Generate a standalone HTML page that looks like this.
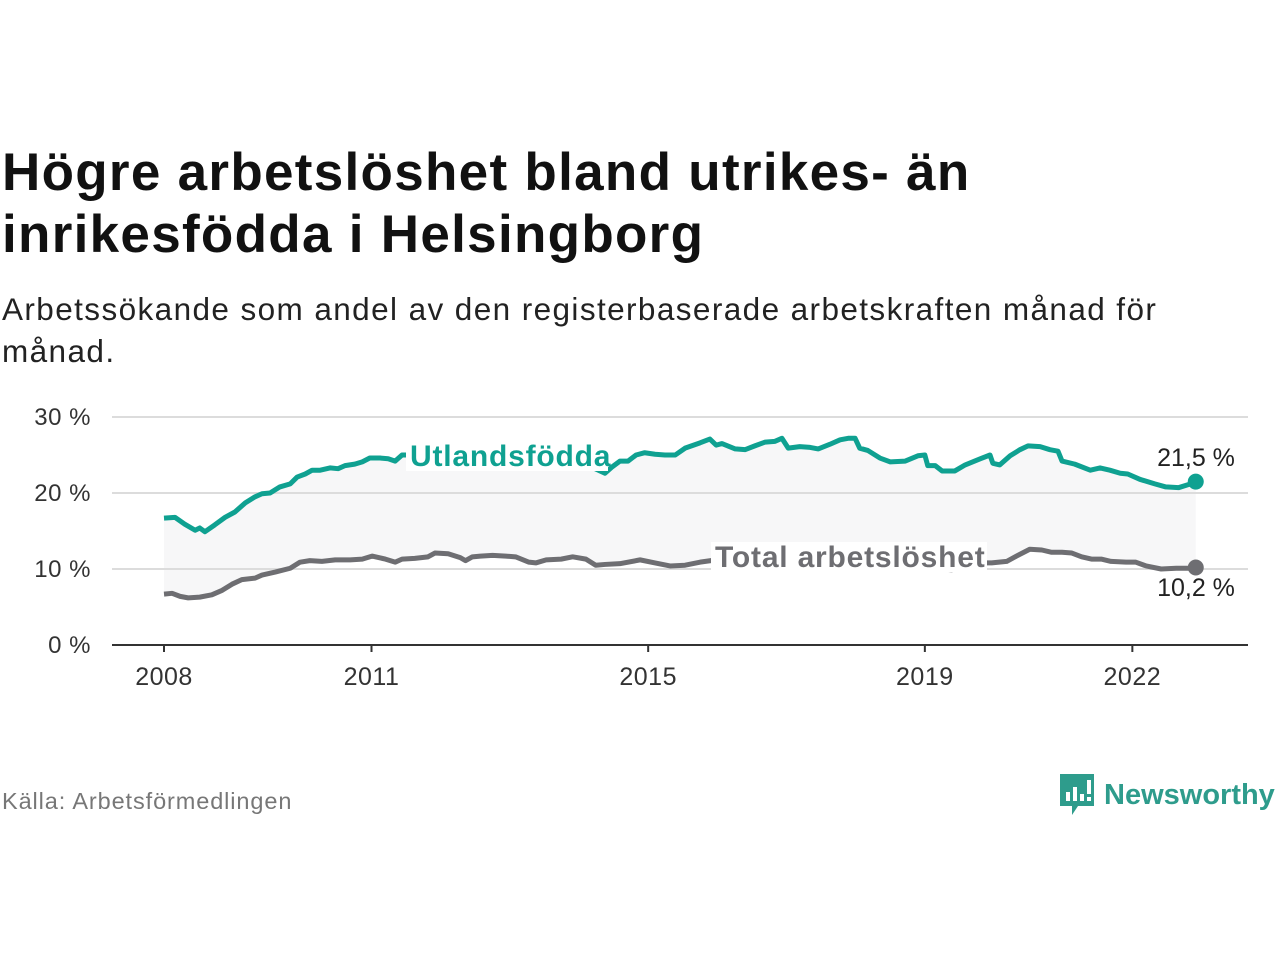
<!DOCTYPE html>
<html><head><meta charset="utf-8"><style>
body{margin:0;width:1280px;height:960px;background:#fff;overflow:hidden;font-family:"Liberation Sans","DejaVu Sans",sans-serif;}
h1{position:absolute;left:2px;top:142px;margin:0;font-size:53px;line-height:62px;font-weight:bold;color:#111;letter-spacing:1.3px;white-space:nowrap;}
.sub{position:absolute;left:2px;top:288px;margin:0;font-size:31.5px;line-height:42px;color:#222;width:1200px;letter-spacing:1.4px;}
.src{position:absolute;left:2px;top:788px;font-size:23.5px;color:#777;letter-spacing:0.9px;}
.logo{position:absolute;left:1058px;top:772px;display:flex;align-items:center;}
.logo span{font-size:29px;color:#2e9c8c;margin-left:8px;font-weight:bold;}
svg{position:absolute;left:0;top:0;}
</style></head><body>
<h1>Högre arbetslöshet bland utrikes- än<br>inrikesfödda i Helsingborg</h1>
<p class="sub">Arbetssökande som andel av den registerbaserade arbetskraften månad för<br>månad.</p>
<div class="src">Källa: Arbetsförmedlingen</div>
<div class="logo">
<svg style="position:static" width="38" height="46" viewBox="0 0 38 46"><path d="M2 2h34v32H20l-6 9v-9H2z" fill="#2e9c8c"/><rect x="8" y="20" width="4" height="9" fill="#fff"/><rect x="15" y="15" width="4" height="14" fill="#fff"/><rect x="22" y="22" width="4" height="7" fill="#fff"/><rect x="29" y="8" width="4" height="14" fill="#fff"/><rect x="29" y="25" width="4" height="4" fill="#fff"/></svg>
<span>Newsworthy</span></div>
<svg id="chart" width="1280" height="960"></svg>
<script>
const yTicks=[0,10,20,30];
const yTickLabels=["0 %","10 %","20 %","30 %"];
const xTickMonths=[0,36,84,132,168];
const xTickLabels=["2008","2011","2015","2019","2022"];
const utlMonths=[0,1.9,3.6,5.4,6.2,7.1,8.8,10.6,12.3,14.1,15.8,17,18.4,20.1,21.9,23.1,24.5,25.7,27.1,28.8,30.2,31.4,33.1,34.4,35.7,37.5,38.9,40.1,41.3,49.6,58.3,67,73.9,76.5,77.7,79.1,80.5,81.9,83.4,85.2,86.9,88.7,90.4,93,94.7,95.8,96.8,99.1,100.8,102.5,104.3,106,107.2,108.3,110.3,112.1,113.5,115.5,117.3,118.7,119.9,120.7,122.1,124.2,126,128.6,130.8,132,132.5,133.8,135,137.2,139,141.6,143.3,143.8,145,146.8,148.5,149.9,152,153.7,155.1,155.8,158,160.7,162.4,164.1,165.9,167.2,169.3,171.9,173.8,176,177.7,179];
const utlValues=[16.7,16.8,15.9,15.1,15.4,14.9,15.8,16.8,17.5,18.7,19.5,19.9,20,20.8,21.2,22.1,22.5,23,23,23.3,23.2,23.6,23.8,24.1,24.6,24.6,24.5,24.2,25,25,24.5,24,23.5,22.6,23.4,24.2,24.2,25,25.3,25.1,25,25,25.9,26.6,27.1,26.3,26.5,25.8,25.7,26.2,26.7,26.8,27.2,25.9,26.1,26,25.8,26.4,27,27.2,27.2,25.9,25.6,24.6,24.1,24.2,24.9,25,23.6,23.6,22.9,22.9,23.7,24.5,25,23.9,23.7,24.9,25.7,26.2,26.1,25.7,25.5,24.2,23.8,23,23.3,23,22.6,22.5,21.8,21.2,20.8,20.7,21.1,21.5];
const totMonths=[0,1.4,2.8,4.2,6.2,8.3,10.1,11.8,13.5,15.8,17,19.3,21.9,23.6,25.3,27.4,29.7,32.3,34.4,36.1,38.4,40.1,41.3,43.5,45.8,47,49.3,51.4,52.3,53.5,54.9,57,59.3,61,63.3,64.5,66.3,68.9,70.9,73.2,74.9,76.5,79.1,82.6,85.2,87.8,90.4,93,95.8,101.9,110.6,119.3,128,136.6,142.7,143.6,146.2,147.9,150.2,152.3,154,155.8,157.5,159.2,160.9,162.6,164.3,166.9,168.6,170.4,173,175.6,177.9,179];
const totValues=[6.7,6.8,6.4,6.2,6.3,6.6,7.2,8,8.6,8.8,9.2,9.6,10.1,10.9,11.1,11,11.2,11.2,11.3,11.7,11.3,10.9,11.3,11.4,11.6,12.1,12,11.5,11.1,11.6,11.7,11.8,11.7,11.6,10.9,10.8,11.2,11.3,11.6,11.3,10.5,10.6,10.7,11.2,10.8,10.4,10.5,10.9,11.2,11.2,10.9,10.4,10.5,9.9,10.8,10.8,11,11.7,12.6,12.5,12.2,12.2,12.1,11.6,11.3,11.3,11,10.9,10.9,10.4,10,10.1,10.1,10.2];
const NS="http://www.w3.org/2000/svg";
const svg=document.getElementById('chart');
const X0=112,X1=1248;
const xs=m=>164+m*5.764;
const ys=v=>645-v*7.6;
function mk(t,a,p){const e=document.createElementNS(NS,t);for(const k in a)e.setAttribute(k,a[k]);(p||svg).appendChild(e);return e;}
let pts=utlMonths.map((m,i)=>xs(m)+','+ys(utlValues[i]));
let pts2=totMonths.map((m,i)=>xs(m)+','+ys(totValues[i])).reverse();
const area=mk('polygon',{points:pts.concat(pts2).join(' '),fill:'#f7f7f8'});


yTicks.forEach((v,i)=>{
 if(v>0){const g=mk('line',{x1:X0,x2:X1,y1:ys(v),y2:ys(v),stroke:'#dcdcdc','stroke-width':2});
 
 }
 const t=mk('text',{x:91,y:ys(v)+8,'text-anchor':'end','font-size':24,fill:'#333','letter-spacing':0.5});t.textContent=yTickLabels[i];
 
 
});
const ax=mk('line',{x1:X0,x2:X1,y1:645,y2:645,stroke:'#333','stroke-width':2});


xTickMonths.forEach((m,i)=>{
 const tk=mk('line',{x1:xs(m),x2:xs(m),y1:645,y2:652,stroke:'#333','stroke-width':2});
 
 
 const t=mk('text',{x:xs(m),y:685,'text-anchor':'middle','font-size':25,fill:'#333','letter-spacing':0.5});t.textContent=xTickLabels[i];
 
 
});
function line(ms,vs,c,name){
 const p=mk('polyline',{points:ms.map((m,i)=>xs(m)+','+ys(vs[i])).join(' '),fill:'none',stroke:c,'stroke-width':5,'stroke-linejoin':'round'});
 
 
 const n=ms.length-1;
 const d=mk('circle',{cx:xs(ms[n]),cy:ys(vs[n]),r:8,fill:c});
 
 
}
line(utlMonths,utlValues,'#0fa191','utlandsfodda-line');
line(totMonths,totValues,'#6e6e72','total-line');
function label(x,y,w,txt,c,name){
 const r=mk('rect',{x:x-4,y:y-25,width:w,height:30,fill:'#fff'});
 
 
 const t=mk('text',{x:x,y:y,'font-size':30,'font-weight':'bold',fill:c,'letter-spacing':0.8});t.textContent=txt;
 
 
}
label(410,466,202,'Utlandsfödda','#0fa191','utlandsfodda-label');
label(715,567,276,'Total arbetslöshet','#6e6e72','total-label');
const n1=utlValues.length-1,n2=totValues.length-1;
const e1=mk('text',{x:1196,y:466,'text-anchor':'middle','font-size':25,fill:'#222'});e1.textContent=utlValues[n1].toString().replace('.',',')+' %';


const e2=mk('text',{x:1196,y:596,'text-anchor':'middle','font-size':25,fill:'#222'});e2.textContent=totValues[n2].toString().replace('.',',')+' %';


</script>
</body></html>
